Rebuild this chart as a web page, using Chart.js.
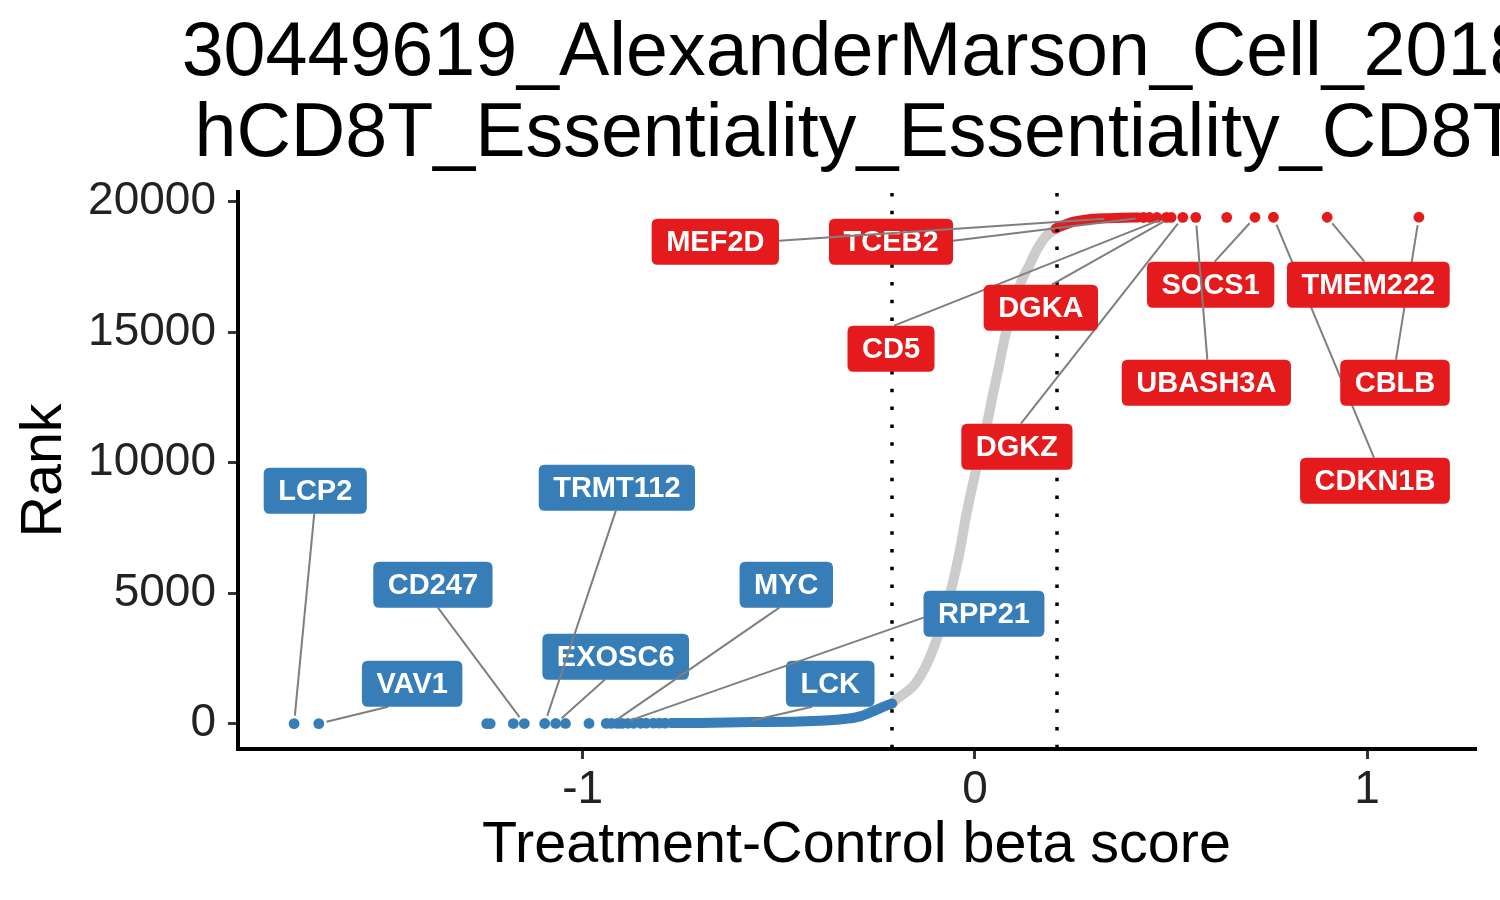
<!DOCTYPE html>
<html>
<head>
<meta charset="utf-8">
<script src="https://cdn.jsdelivr.net/npm/chart.js@4.4.0/dist/chart.umd.min.js"></script>
<style>
html,body{margin:0;padding:0;background:#ffffff;}
#wrap{width:1500px;height:900px;position:relative;}
</style>
</head>
<body>
<div id="wrap"><canvas id="c" width="1500" height="900"></canvas></div>
<script>
// ---------------- data ----------------
const titleLines = ["30449619_AlexanderMarson_Cell_2018", "hCD8T_Essentiality_Essentiality_CD8T"];
const xAxisTitle = "Treatment-Control beta score";
const yAxisTitle = "Rank";
const xTicks = [-1, 0, 1];
const yTicks = [0, 5000, 10000, 15000, 20000];
const cutoffs = [-0.211, 0.209];

// non-significant genes (grey curve)
const grayBeta = [-0.211, -0.201, -0.150, -0.107, -0.059, -0.038, -0.023, 0.000, 0.033, 0.043, 0.061, 0.079, 0.120, 0.137, 0.155, 0.178, 0.206];
const grayRank = [770, 920, 1570, 2840, 5250, 6670, 7930, 9540, 11650, 12410, 13680, 14980, 17010, 17510, 18080, 18620, 18970];

// negatively selected genes (blue)
const blueDotBeta = [-1.736, -1.673, -1.245, -1.236, -1.177, -1.149, -1.097, -1.069, -1.044, -0.984, -0.940, -0.927, -0.912, -0.900, -0.885, -0.870, -0.852, -0.838, -0.820, -0.805, -0.790];
const blueDotRank = [1, 2, 3, 4, 5, 6, 7, 8, 9, 10, 11, 12, 13, 14, 15, 16, 17, 18, 19, 20, 21];
const blueLineBeta = [-0.775, -0.700, -0.567, -0.448, -0.328, -0.295, -0.262, -0.226, -0.211];
const blueLineRank = [22, 30, 60, 80, 190, 270, 460, 690, 770];

// positively selected genes (red)
const redLineBeta = [0.206, 0.230, 0.252, 0.290, 0.341, 0.380, 0.417];
const redLineRank = [18970, 19120, 19234, 19330, 19368, 19384, 19392];
const redDotBeta = [0.430, 0.445, 0.464, 0.488, 0.500, 0.530, 0.563, 0.642, 0.714, 0.761, 0.898, 1.132];
const redDotRank = [19393, 19394, 19395, 19396, 19397, 19398, 19399, 19400, 19401, 19402, 19403, 19404];

// labelled genes (their own beta score and rank)
const labelGenes = ["LCP2", "VAV1", "CD247", "EXOSC6", "TRMT112", "MYC", "LCK", "RPP21",
                    "CDKN1B", "CBLB", "TMEM222", "SOCS1", "UBASH3A", "DGKZ", "CD5", "DGKA", "TCEB2", "MEF2D"];
const labelBeta = [-1.736, -1.673, -1.149, -1.069, -1.097, -0.927, -0.587, -0.900,
                   0.761, 1.132, 0.898, 0.714, 0.563, 0.530, 0.488, 0.500, 0.430, 0.350];
const labelRank = [1, 2, 6, 8, 7, 12, 55, 14,
                   19402, 19404, 19403, 19401, 19399, 19398, 19396, 19397, 19393, 19370];
const labelGroup = ["down", "down", "down", "down", "down", "down", "down", "down",
                    "up", "up", "up", "up", "up", "up", "up", "up", "up", "up"];

// label box layout (repelled positions, in data units) and segment anchor side/offset (px)
const labelBoxBeta = [-1.682, -1.435, -1.382, -0.916, -0.913, -0.481, -0.369, 0.023,
                      1.020, 1.071, 1.003, 0.601, 0.590, 0.107, -0.214, 0.168, -0.214, -0.662];
const labelBoxRank = [8927, 1533, 5326, 2567, 9042, 5326, 1533, 4215,
                      9310, 13065, 16820, 16820, 13065, 10613, 14368, 15939, 18467, 18467];
const labelAnchor = [["bottom", -1], ["bottom", -24], ["bottom", 5], ["bottom", -11], ["bottom", -1], ["bottom", -7], ["bottom", -18], ["left", 4],
                     ["top", -1], ["top", 1], ["top", -4], ["top", 4], ["top", 1], ["top", 4], ["top", 3], ["top", 11], ["right", -1], ["right", -1]];

// ---------------- styles ----------------
const FONT = '"Liberation Sans", Arial, Helvetica, sans-serif';
const RED = "#E41A1C", BLUE = "#377EB8", GREY = "#CCCCCC";
Chart.defaults.font.family = FONT;

const pts = (xs, ys) => xs.map((v, i) => ({x: v, y: ys[i]}));

const titlePlugin = {
  id: "bigTitle",
  afterDraw(chart) {
    const {ctx, chartArea} = chart;
    ctx.save();
    ctx.font = "75.4px " + FONT;
    ctx.fillStyle = "#000";
    ctx.textAlign = "center";
    ctx.textBaseline = "alphabetic";
    const cx = (chartArea.left + chartArea.right) / 2;
    ctx.fillText(titleLines[0], cx, 75);
    ctx.fillText(titleLines[1], cx, 156);
    ctx.restore();
  }
};

const cutoffPlugin = {
  id: "cutoffs",
  afterDatasetsDraw(chart) {
    const {ctx, chartArea, scales: {x}} = chart;
    ctx.save();
    ctx.strokeStyle = "#000";
    ctx.lineWidth = 3.5;
    ctx.setLineDash([3.5, 14.3]);
    cutoffs.forEach(c => {
      const px = Math.round(x.getPixelForValue(c));
      ctx.beginPath();
      ctx.moveTo(px, chartArea.top + 1);
      ctx.lineTo(px, chartArea.bottom);
      ctx.stroke();
    });
    ctx.restore();
  }
};

function roundRect(ctx, x, y, w, h, r) {
  ctx.beginPath();
  ctx.moveTo(x + r, y);
  ctx.lineTo(x + w - r, y);
  ctx.quadraticCurveTo(x + w, y, x + w, y + r);
  ctx.lineTo(x + w, y + h - r);
  ctx.quadraticCurveTo(x + w, y + h, x + w - r, y + h);
  ctx.lineTo(x + r, y + h);
  ctx.quadraticCurveTo(x, y + h, x, y + h - r);
  ctx.lineTo(x, y + r);
  ctx.quadraticCurveTo(x, y, x + r, y);
  ctx.closePath();
}

const labelPlugin = {
  id: "geneLabels",
  afterDatasetsDraw(chart) {
    const {ctx, scales: {x, y}} = chart;
    ctx.save();
    ctx.font = "bold 29px " + FONT;
    labelGenes.forEach((g, i) => {
      const cx = x.getPixelForValue(labelBoxBeta[i]);
      const cy = y.getPixelForValue(labelBoxRank[i]);
      const tw = ctx.measureText(g).width;
      const w = tw + 29, h = 46;
      const left = cx - w / 2, top = cy - h / 2;
      const px = x.getPixelForValue(labelBeta[i]);
      const py = y.getPixelForValue(labelRank[i]);
      const [side, off] = labelAnchor[i];
      let ax = cx, ay = cy;
      if (side === "top") { ax = cx + off; ay = top; }
      else if (side === "bottom") { ax = cx + off; ay = top + h; }
      else if (side === "left") { ax = left; ay = cy + off; }
      else { ax = left + w; ay = cy + off; }
      const dx = px - ax, dy = py - ay, d = Math.hypot(dx, dy);
      const ex = px - dx / d * 8, ey = py - dy / d * 8;
      ctx.strokeStyle = "#7F7F7F";
      ctx.lineWidth = 2;
      ctx.setLineDash([]);
      ctx.beginPath();
      ctx.moveTo(ax, ay);
      ctx.lineTo(ex, ey);
      ctx.stroke();
      ctx.fillStyle = labelGroup[i] === "up" ? RED : BLUE;
      roundRect(ctx, left, top, w, h, 6);
      ctx.fill();
      ctx.fillStyle = "#FFFFFF";
      ctx.textAlign = "center";
      ctx.textBaseline = "middle";
      ctx.fillText(g, cx, cy + 1);
    });
    ctx.restore();
  }
};

const chart = new Chart(document.getElementById("c"), {
  type: "scatter",
  data: {
    datasets: [
      {data: pts(grayBeta, grayRank), showLine: true, borderColor: GREY, borderWidth: 10, pointRadius: 0,
       cubicInterpolationMode: "monotone", borderCapStyle: "round", borderJoinStyle: "round", order: 5},
      {data: pts(blueLineBeta, blueLineRank), showLine: true, borderColor: BLUE, borderWidth: 10, pointRadius: 0,
       cubicInterpolationMode: "monotone", borderCapStyle: "round", borderJoinStyle: "round", order: 4},
      {data: pts(redLineBeta, redLineRank), showLine: true, borderColor: RED, borderWidth: 10, pointRadius: 0,
       cubicInterpolationMode: "monotone", borderCapStyle: "round", borderJoinStyle: "round", order: 3},
      {data: pts(blueDotBeta, blueDotRank), pointRadius: 5.4, backgroundColor: BLUE, borderWidth: 0, order: 2},
      {data: pts(redDotBeta, redDotRank), pointRadius: 5.4, backgroundColor: RED, borderWidth: 0, order: 1}
    ]
  },
  options: {
    responsive: false,
    animation: false,
    devicePixelRatio: 1,
    layout: {padding: {top: 192, right: 25, bottom: 0, left: 0}},
    plugins: {legend: {display: false}, tooltip: {enabled: false}, title: {display: false}},
    scales: {
      x: {
        type: "linear", min: -1.879, max: 1.275,
        afterBuildTicks: s => { s.ticks = xTicks.map(v => ({value: v})); },
        afterFit: s => { s.height = 151; },
        ticks: {font: {size: 46}, color: "#222222", padding: 4, autoSkip: false, maxRotation: 0,
                callback: v => String(v)},
        grid: {drawOnChartArea: false, drawTicks: true, tickLength: 10, color: "#333333", lineWidth: 3},
        border: {display: true, color: "#000000", width: 4},
        title: {display: true, text: xAxisTitle, font: {size: 57.5}, color: "#000000", padding: {top: 0, bottom: 19}}
      },
      y: {
        type: "linear", min: -970, max: 20370,
        afterBuildTicks: s => { s.ticks = yTicks.map(v => ({value: v})); },
        afterFit: s => { s.width = 238; },
        ticks: {font: {size: 46}, color: "#222222", padding: 12, autoSkip: false,
                callback: v => String(v)},
        grid: {drawOnChartArea: false, drawTicks: true, tickLength: 10, color: "#333333", lineWidth: 3},
        border: {display: true, color: "#000000", width: 4},
        title: {display: true, text: yAxisTitle, font: {size: 57.5}, color: "#000000", padding: {top: 11, bottom: 0}}
      }
    }
  },
  plugins: [cutoffPlugin, labelPlugin, titlePlugin]
});
</script>
</body>
</html>
